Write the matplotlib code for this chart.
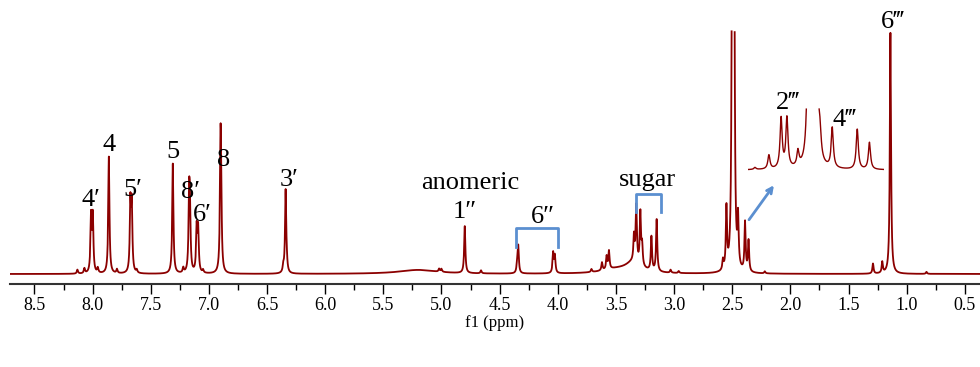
import numpy as np
import matplotlib.pyplot as plt
from matplotlib.ticker import MultipleLocator, FormatStrFormatter

# peak list (ppm, height in px, half width in ppm)
peak_ppm = [8.13, 8.07, 8.013, 7.998, 7.955, 7.86, 7.79, 7.675, 7.663, 7.62,
            7.31, 7.22, 7.17, 7.163, 7.105, 7.092, 7.05, 6.90, 6.895,
            6.36, 6.34, 6.33, 5.02, 5.00, 4.80, 4.66,
            4.35, 4.34, 4.04, 4.025, 3.71, 3.62, 3.58, 3.56,
            3.345, 3.325, 3.29, 3.275, 3.195, 3.15, 3.03, 2.96,
            2.58, 2.55, 2.50, 2.485, 2.45, 2.39, 2.36, 2.22,
            1.29, 1.21, 1.14, 0.83]
peak_h = [4, 5, 56, 56, 5, 117, 4, 68, 66, 3,
          110, 5, 68, 60, 44, 43, 3, 112, 60,
          6, 83, 5, 3, 3, 47, 3,
          8, 27, 20, 17, 3, 8, 13, 18,
          25, 56, 52, 20, 34, 52, 3, 2,
          10, 61, 400, 400, 48, 49, 31, 2,
          10, 11, 241, 2]
peak_w = [0.006] * len(peak_ppm)

# broad humps under the spectrum
hump_ppm = [5.2, 3.35, 3.5]
hump_h = [4, 10, 4]
hump_w = [0.2, 0.08, 0.15]

# inset (expanded 2.38-2.61 ppm region)
ins_ppm = [2.600, 2.576, 2.555, 2.545, 2.526, 2.507, 2.495, 2.488, 2.467, 2.424, 2.403]
ins_h = [2, 14, 50, 50, 15, 300, 300, 20, 40, 40, 27]

labels = ["4\u2032", "4", "5\u2032", "5", "8\u2032", "6\u2032", "8", "3\u2032",
          "anomeric", "1\u2033", "6\u2033", "sugar", "6\u2034"]
label_x = [8.01, 7.86, 7.65, 7.31, 7.16, 7.06, 6.87, 6.31, 4.75, 4.80, 4.13, 3.23, 1.12]
label_y = [74, 129, 84, 122, 82, 59, 114, 94, 91, 62, 57, 94, 252]

red = "#8b0000"
blue = "#5b8fd0"
serif = ["Liberation Serif", "DejaVu Serif"]


def lorentz(x, pos, h, w):
    y = np.zeros_like(x)
    for p, a, g in zip(pos, h, w):
        y += a * g ** 2 / ((x - p) ** 2 + g ** 2)
    return y


x = np.linspace(0.37, 8.71, 40000)
y = lorentz(x, peak_ppm, peak_h, peak_w) + lorentz(x, hump_ppm, hump_h, hump_w)
y[y > 246] = np.nan

fig = plt.figure(figsize=(9.8, 3.67), dpi=100)
ax = fig.add_axes([10 / 980, 83 / 367, 970 / 980, 284 / 367])
ax.plot(x, y, color=red, lw=1.3)
ax.set_xlim(8.71, 0.37)
ax.set_ylim(-10, 274)

for s in ["top", "left", "right"]:
    ax.spines[s].set_visible(False)
ax.spines["bottom"].set_linewidth(1.5)
ax.spines["bottom"].set_color("#333333")
ax.set_yticks([])
ax.xaxis.set_major_locator(MultipleLocator(0.5))
ax.xaxis.set_minor_locator(MultipleLocator(0.25))
ax.xaxis.set_major_formatter(FormatStrFormatter("%.1f"))
ax.tick_params(axis="x", which="major", length=7, width=1, labelsize=13, pad=2)
ax.tick_params(axis="x", which="minor", length=4, width=1)
for t in ax.get_xticklabels():
    t.set_family(serif)
ax.set_xlabel("f1 (ppm)", family=serif, fontsize=12, labelpad=1)

for lab, lx, ly in zip(labels, label_x, label_y):
    ax.text(lx, ly, lab, ha="center", va="center", fontsize=19, family=serif)

# brackets
ax.plot([4.36, 4.36, 3.995, 3.995], [27, 46, 46, 27], color=blue, lw=2)
ax.plot([3.33, 3.33, 3.117, 3.117], [62, 80, 80, 62], color=blue, lw=2)
ax.annotate("", xy=(2.128, 91), xytext=(2.37, 52),
            arrowprops=dict(arrowstyle="->", color=blue, lw=2))

# inset
ins = fig.add_axes([748 / 980, 195 / 367, 136 / 980, 67 / 367])
xi = np.linspace(2.378, 2.612, 3000)
yi = lorentz(xi, ins_ppm, ins_h, [0.0022] * len(ins_ppm))
yi[yi > 61] = np.nan
ins.plot(xi, yi, color=red, lw=1)
ins.set_xlim(2.612, 2.378)
ins.set_ylim(-2, 65)
ins.axis("off")
ins.text(2.543, 67, "2\u2034", ha="center", va="center", fontsize=19, family=serif)
ins.text(2.445, 50, "4\u2034", ha="center", va="center", fontsize=19, family=serif)

fig.savefig("out.png", dpi=100)
